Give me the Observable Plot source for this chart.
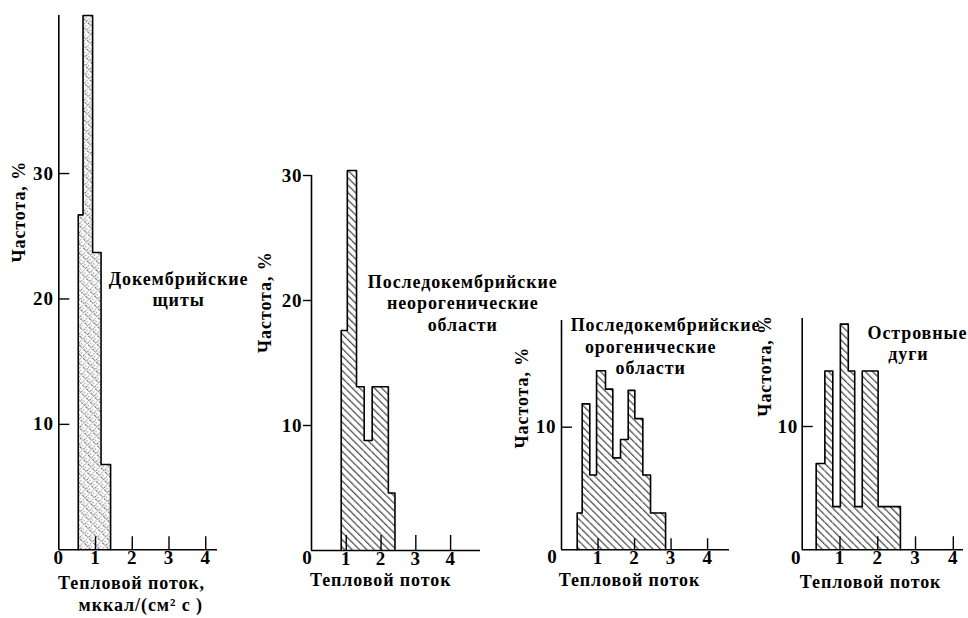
<!DOCTYPE html>
<html><head><meta charset="utf-8">
<script src="https://cdn.jsdelivr.net/npm/d3@7"></script>
<script src="https://cdn.jsdelivr.net/npm/@observablehq/plot@0.6"></script>
<style>
body{margin:0;background:#fff;}
#wrap{position:relative;width:968px;height:618px;overflow:hidden;background:#fff;}
#wrap svg{position:absolute;left:0;top:0;}
</style></head><body><div id="wrap"></div>
<script>
// ---- data ----
const shieldEdges = [0.53, 0.66, 0.92, 1.15, 1.41];
const shieldFreq  = [26.7, 42.6, 23.7, 6.8];
const neoEdges = [0.855, 1.03, 1.295, 1.515, 1.745, 2.21, 2.40];
const neoFreq  = [17.6, 30.4, 13.1, 8.8, 13.1, 4.6];
const oroEdges = [0.43, 0.567, 0.775, 0.96, 1.205, 1.405, 1.616, 1.827, 2.008, 2.227, 2.438, 2.85];
const oroFreq  = [3.0, 11.9, 6.1, 14.6, 13.1, 7.5, 9.0, 13.0, 10.7, 6.1, 3.0];
const arcEdges = [0.37, 0.60, 0.81, 1.01, 1.22, 1.39, 1.59, 2.01, 2.60];
const arcFreq  = [7.0, 14.5, 3.5, 18.3, 14.5, 3.5, 14.5, 3.5];

const xTicksAll = [1, 2, 3, 4];
const xLabelsFirst = [0, 1, 2, 3, 4];
const yTicksShield = [10, 20, 30];
const yTicksNeo = [10, 20, 30];
const yTicksOro = [10];
const yTicksArc = [10];

const yTitle = "Частота, %";
const xTitle = "Тепловой поток";
const xTitleFirst = ["Тепловой поток,", "мккал/(см² с )"];
const namesShield = ["Докембрийские", "щиты"];
const namesNeo = ["Последокембрийские", "неорогенические", "области"];
const namesOro = ["Последокембрийские", "орогенические", "области"];
const namesArc = ["Островные", "дуги"];

// ---- drawing ----
const W = 968, H = 618;
const FONT = "'Liberation Serif', 'DejaVu Serif', serif";
const txt = {fontFamily: FONT, fontWeight: "bold", fontSize: 18, fill: "black"};
const num = {...txt, fontSize: 19};

function bins(edges, freq) {
  return freq.map((f, i) => ({x1: edges[i], x2: edges[i + 1], y1: 0, y2: f}));
}
function outline(edges, freq) {
  const pts = [{x: edges[0], y: 0}];
  freq.forEach((f, i) => { pts.push({x: edges[i], y: f}); pts.push({x: edges[i + 1], y: f}); });
  pts.push({x: edges[edges.length - 1], y: 0});
  return pts;
}

function addPattern(svg, id, dotted) {
  const s = dotted ? 6.5 : 5.2;
  const defs = d3.select(svg).insert("defs", ":first-child");
  const p = defs.append("pattern").attr("id", id)
    .attr("patternUnits", "userSpaceOnUse").attr("width", s).attr("height", 6)
    .attr("patternTransform", "rotate(-45)");
  p.append("rect").attr("width", s).attr("height", 6).attr("fill", "white");
  p.append("line").attr("x1", 0.7).attr("y1", 0).attr("x2", 0.7).attr("y2", 6)
    .attr("stroke", "#1a1a1a").attr("stroke-width", dotted ? 0.8 : 1.0)
    .attr("stroke-dasharray", dotted ? "2.5 0.8 1.5 1.2" : "4.2 1.8");
  if (dotted) {
    [[3.3, 1.0], [4.6, 4.2], [2.4, 4.6]].forEach(([cx, cy]) =>
      p.append("circle").attr("cx", cx).attr("cy", cy).attr("r", 0.55).attr("fill", "#333"));
  } else {
    p.append("circle").attr("cx", 0.7).attr("cy", 5.1).attr("r", 0.75).attr("fill", "#111");
  }
}

function panel(cfg) {
  const frameW = cfg.right - cfg.left, frameH = cfg.base - cfg.top;
  const marks = [
    Plot.rect(bins(cfg.edges, cfg.freq), {x1: "x1", x2: "x2", y1: "y1", y2: "y2", fill: `url(#${cfg.id})`}),
    Plot.line(outline(cfg.edges, cfg.freq), {x: "x", y: "y", stroke: "black", strokeWidth: 1.6}),
    Plot.ruleX([0], {y1: 0, y2: cfg.yMax, stroke: "black", strokeWidth: 1.6}),
    Plot.ruleY([0], {x1: 0, x2: cfg.xMax, stroke: "black", strokeWidth: 1.6}),
    Plot.tickX(xTicksAll, {x: d => d, insetTop: frameH - cfg.xTickLen, stroke: "black", strokeWidth: 1.4}),
    Plot.tickY(cfg.yTicks, {y: d => d, insetRight: frameW - cfg.yTickLen, dx: cfg.yTickDx, stroke: "black", strokeWidth: 1.4}),
    Plot.text(cfg.yTicks, {y: d => d, text: d => String(d), frameAnchor: "left", textAnchor: "end", dx: cfg.yLabDx, ...num}),
    Plot.text(cfg.xLabels, {x: d => d, text: d => String(d), frameAnchor: "bottom", dy: 14, ...num}),
    Plot.text([yTitle], {y: () => cfg.yTitleY, frameAnchor: "left", dx: cfg.yTitleDx, rotate: -90, ...txt}),
    ...cfg.xTitle.map((t, i) => Plot.text([t], {x: () => cfg.xTitleX[i], frameAnchor: "bottom", dy: cfg.xTitleDy[i], ...txt})),
    ...cfg.names.map((t, i) => Plot.text([t], {x: () => cfg.nameX[i], y: () => cfg.nameY[i], ...txt}))
  ];
  if (cfg.zero) marks.push(Plot.text(["0"], {x: () => 0, y: () => 0, dx: cfg.zero[0], dy: cfg.zero[1], ...num}));
  const svg = Plot.plot({
    width: W, height: H,
    marginLeft: cfg.left, marginRight: W - cfg.right, marginTop: cfg.top, marginBottom: H - cfg.base,
    x: {domain: [0, cfg.xMax], axis: null},
    y: {domain: [0, cfg.yMax], axis: null},
    style: `background: transparent; overflow: visible; font-family: ${FONT}; letter-spacing: 0.9px;`,
    marks
  });
  addPattern(svg, cfg.id, cfg.dotted);
  document.getElementById("wrap").appendChild(svg);
}

panel({id: "h1", dotted: true, edges: shieldEdges, freq: shieldFreq,
  left: 58.3, right: 217, top: 15, base: 549.3, xMax: 4.32, yMax: 42.6,
  xTickLen: 13, yTicks: yTicksShield, yTickLen: 11, yTickDx: 0, yLabDx: -5,
  xLabels: xLabelsFirst, yTitleY: 22.9, yTitleDx: -40,
  xTitle: xTitleFirst, xTitleX: [1.98, 2.23], xTitleDy: [39, 61],
  names: namesShield, nameX: [3.26, 3.26], nameY: [21.6, 19.9]});

panel({id: "h2", dotted: false, edges: neoEdges, freq: neoFreq,
  left: 311, right: 480, top: 175, base: 550, xMax: 4.86, yMax: 30,
  xTickLen: 15, yTicks: yTicksNeo, yTickLen: 8, yTickDx: -8, yLabDx: -9,
  xLabels: xTicksAll, yTitleY: 15.8, yTitleDx: -46, zero: [-4, 7],
  xTitle: [xTitle], xTitleX: [1.99], xTitleDy: [35],
  names: namesNeo, nameX: [4.35, 4.35, 4.35], nameY: [21.44, 19.76, 18.0]});

panel({id: "h3", dotted: false, edges: oroEdges, freq: oroFreq,
  left: 561, right: 729, top: 320, base: 549.3, xMax: 4.6, yMax: 18.7,
  xTickLen: 11, yTicks: yTicksOro, yTickLen: 11, yTickDx: 0, yLabDx: -5,
  xLabels: xTicksAll, yTitleY: 8.26, yTitleDx: -39, zero: [-9, 7],
  xTitle: [xTitle], xTitleX: [1.86], xTitleDy: [36],
  names: namesOro, nameX: [2.85, 2.44, 2.44], nameY: [18.3, 16.5, 14.8]});

panel({id: "h4", dotted: false, edges: arcEdges, freq: arcFreq,
  left: 801.7, right: 963, top: 318, base: 549.3, xMax: 4.27, yMax: 18.76,
  xTickLen: 13, yTicks: yTicksArc, yTickLen: 11, yTickDx: 0, yLabDx: -4,
  xLabels: xTicksAll, yTitleY: 10.8, yTitleDx: -37, zero: [-6, 8],
  xTitle: [xTitle], xTitleX: [1.81], xTitleDy: [38],
  names: namesArc, nameX: [3.05, 2.81], nameY: [17.6, 15.9]});
</script></body></html>
